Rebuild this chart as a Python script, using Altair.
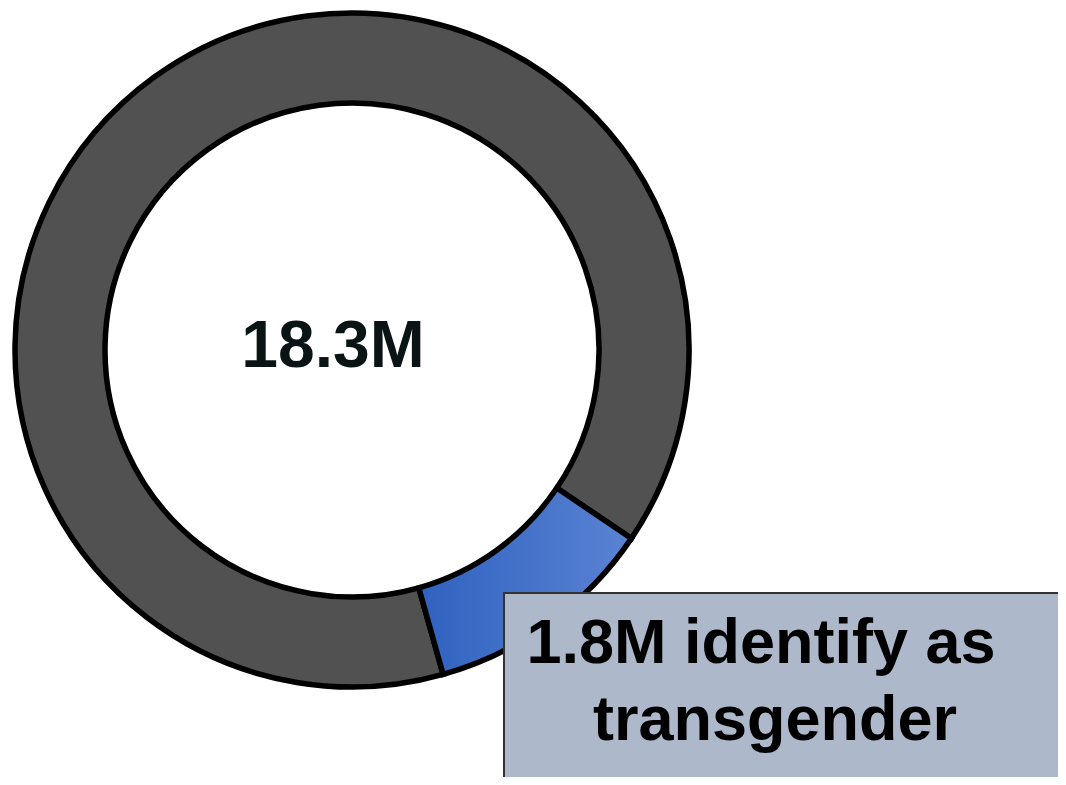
import altair as alt
import pandas as pd

# Data
categories = ["Identify as transgender", "Other"]
shares = [11.2, 88.8]          # share of the ring
center_label = ["18.3M"]
box_lines = ["1.8M identify as", "transgender"]

START = 2.164  # radians, clockwise from 12 o'clock
TWO_PI = 6.283185307

df = pd.DataFrame({"cat": categories, "share": shares, "order": [0, 1]})

base = alt.Chart(df).transform_window(
    cum="sum(share)", sort=[alt.SortField("order")]
).transform_calculate(
    start="datum.cum - datum.share"
)

theta_scale = alt.Scale(domain=[0, 100], range=[START, START + TWO_PI])

arc_common = dict(
    theta=alt.Theta("start:Q", scale=theta_scale),
    theta2="cum:Q",
    x=alt.value(344),
    y=alt.value(342),
)

gray_arc = base.transform_filter(alt.datum.cat == "Other").mark_arc(
    radius=337, radius2=247, fill="#515151", stroke="#000000", strokeWidth=5.5
).encode(**arc_common)

blue_gradient = alt.LinearGradient(
    gradient="linear",
    stops=[alt.GradientStop(color="#2F62BF", offset=0),
           alt.GradientStop(color="#5A83D3", offset=1)],
    x1=0, x2=1, y1=0, y2=0,
)

blue_arc = base.transform_filter(alt.datum.cat == "Identify as transgender").mark_arc(
    radius=337, radius2=247, fill=blue_gradient, stroke="#000000", strokeWidth=5.5
).encode(**arc_common)

center_text = alt.Chart(pd.DataFrame({"t": center_label})).mark_text(
    font="Liberation Sans", fontWeight="bold", fontSize=66,
    color="#0B1414", align="center", baseline="alphabetic"
).encode(text="t:N", x=alt.value(325), y=alt.value(359))

box = alt.Chart(pd.DataFrame({"a": [0]})).mark_rect(
    fill="#ADB8CB", stroke="#333333", strokeWidth=2
).encode(x=alt.value(496), x2=alt.value(1053), y=alt.value(585), y2=alt.value(772))

box_text1 = alt.Chart(pd.DataFrame({"t": [box_lines[0]]})).mark_text(
    font="Liberation Sans", fontWeight="bold", fontSize=63,
    color="#000000", align="center", baseline="alphabetic"
).encode(text="t:N", x=alt.value(753), y=alt.value(655))
box_text2 = alt.Chart(pd.DataFrame({"t": [box_lines[1]]})).mark_text(
    font="Liberation Sans", fontWeight="bold", fontSize=63,
    color="#000000", align="center", baseline="alphabetic"
).encode(text="t:N", x=alt.value(767), y=alt.value(732))

chart = alt.layer(gray_arc, blue_arc, center_text, box, box_text1, box_text2).properties(
    width=1050, height=769, padding=0, autosize=alt.AutoSizeParams(type="none"),
    background="white"
).configure_view(stroke=None)

chart.save("out.html", embed_options={"renderer": "svg", "actions": False})
